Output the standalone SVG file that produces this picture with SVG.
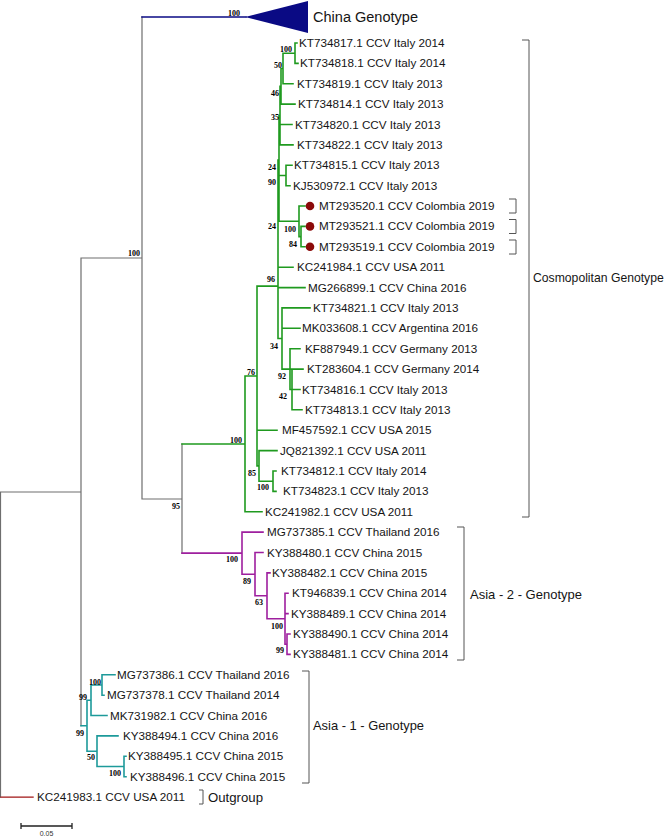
<svg xmlns="http://www.w3.org/2000/svg" width="670" height="838" viewBox="0 0 670 838">
<style>
.bg{fill:#fff}
.br{fill:none;stroke-width:1.2;stroke-linecap:square}
.gy{stroke:#6e6e6e}
.gn{stroke:#1f9a1f;stroke-width:1.6}
.pu{stroke:#9e1f9e;stroke-width:1.6}
.tl{stroke:#1d9a9a;stroke-width:1.6}
.bl{stroke:#0a0a84;stroke-width:1.6}
.rd{stroke:#a01414;stroke-width:1.4}
.lf{font-family:"Liberation Sans",Arial,sans-serif;font-size:11.7px;fill:#151515}
.cl{font-family:"Liberation Sans",Arial,sans-serif;font-size:13px;fill:#151515}
.cm{font-family:"Liberation Sans",Arial,sans-serif;font-size:12.2px;fill:#151515}
.bs{font-family:"Liberation Serif","Times New Roman",serif;font-size:8px;font-weight:bold;fill:#000;text-anchor:middle}
.bk{fill:none;stroke:#555;stroke-width:1}
.dot{fill:#8b0a0a}
</style>
<rect class="bg" x="0" y="0" width="670" height="838"/>

<g id="connectors">
  <path class="br gy" d="M0.5,492 V797.1 M0.5,492 H81 M81,258 V725.7 M81,258 H142 M142,17 V499 M142,499 H182 M182,444 V553.1"/>
  <path class="br rd" d="M1,797.1 H33"/>
  <path class="br bl" d="M142,17 H246"/>
  <path class="br gn" d="M182,444 H245 M245,376 V511.7 M245,511.7 H262
    M245,376 H257 M257,286.1 V465.9 M257,430.2 H277
    M257,465.9 H259 M259,450.6 V481.2 M259,450.6 H277 M259,481.2 H273 M273,471 V491.4 M273,471 H276 M273,491.4 H276
    M257,286.1 H278
    M295,43 V63.4 M295,43 H297 M295,63.4 H298
    M283,53.2 V83.8 M283,53.2 H295 M283,83.8 H293
    M281,68.5 V104.1 M281,68.5 H283 M281,104.1 H295
    M280,86.3 V144.9 M280,86.3 H281 M280,124.5 H292 M280,144.9 H293
    M279,115.6 V221.3 M279,115.6 H280 M279,175.5 H286 M279,221.3 H299
    M286,165.3 V185.7 M286,165.3 H292 M286,185.7 H290
    M299,206 V236.6 M299,206 H305 M299,236.6 H301 M301,226.4 V246.8 M301,226.4 H305 M301,246.8 H305
    M278,160 V338.5 M278,267.2 H293 M278,287.6 H305 M278,338.5 H282
    M282,307.9 V369.1 M282,307.9 H310 M282,328.3 H300 M282,369.1 H303
    M290,348.7 V389.5 M290,348.7 H300 M290,389.5 H292
    M292,369.1 V409.8 M292,389.5 H300 M292,409.8 H302"/>
  <path class="br pu" d="M182,553.1 H242 M242,532.1 V574.2 M242,532.1 H263 M242,574.2 H255
    M255,552.5 V595.8 M255,552.5 H263 M255,595.8 H267
    M267,572.9 V618.75 M267,572.9 H270 M267,618.75 H285
    M285,593.3 V644.2 M285,593.3 H288 M285,613.6 H288 M285,644.2 H287
    M287,634 V654.4 M287,634 H290 M287,654.4 H290"/>
  <path class="br tl" d="M81,725.7 H87 M87,700.3 V751.2 M87,700.3 H91
    M91,685 V715.5 M91,685 H102 M102,674.8 V695.2 M102,674.8 H115 M102,695.2 H104 M91,715.5 H107
    M87,751.2 H97 M97,735.9 V766.5 M97,735.9 H118 M97,766.5 H124
    M124,756.3 V776.7 M124,756.3 H126 M124,776.7 H126"/>
</g>

<g id="china-genotype">
  <polygon points="245,17 308,1 308,33" fill="#0a0a84"/>
  <text x="313" y="22" font-family="Liberation Sans, Arial, sans-serif" font-size="14" fill="#151515" textLength="105" lengthAdjust="spacingAndGlyphs">China Genotype</text>
</g>

<g id="leaves-cosmopolitan">
  <g id="KT734817"><text class="lf" x="299" y="47">KT734817.1 CCV Italy 2014</text></g>
  <g id="KT734818"><text class="lf" x="300" y="67.4">KT734818.1 CCV Italy 2014</text></g>
  <g id="KT734819"><text class="lf" x="297" y="87.8">KT734819.1 CCV Italy 2013</text></g>
  <g id="KT734814"><text class="lf" x="298" y="108.1">KT734814.1 CCV Italy 2013</text></g>
  <g id="KT734820"><text class="lf" x="295" y="128.5">KT734820.1 CCV Italy 2013</text></g>
  <g id="KT734822"><text class="lf" x="297" y="148.9">KT734822.1 CCV Italy 2013</text></g>
  <g id="KT734815"><text class="lf" x="294" y="169.3">KT734815.1 CCV Italy 2013</text></g>
  <g id="KJ530972"><text class="lf" x="293" y="189.7">KJ530972.1 CCV Italy 2013</text></g>
  <g id="MT293520"><circle class="dot" cx="310" cy="206" r="4.3"/><text class="lf" x="319" y="210">MT293520.1 CCV Colombia 2019</text></g>
  <g id="MT293521"><circle class="dot" cx="310" cy="226.4" r="4.3"/><text class="lf" x="319" y="230.4">MT293521.1 CCV Colombia 2019</text></g>
  <g id="MT293519"><circle class="dot" cx="310" cy="246.8" r="4.3"/><text class="lf" x="319" y="250.8">MT293519.1 CCV Colombia 2019</text></g>
  <g id="KC241984"><text class="lf" x="297" y="271.2">KC241984.1 CCV USA 2011</text></g>
  <g id="MG266899"><text class="lf" x="308" y="291.6">MG266899.1 CCV China 2016</text></g>
  <g id="KT734821"><text class="lf" x="313" y="311.9">KT734821.1 CCV Italy 2013</text></g>
  <g id="MK033608"><text class="lf" x="302" y="332.3">MK033608.1 CCV Argentina 2016</text></g>
  <g id="KF887949"><text class="lf" x="305" y="352.7">KF887949.1 CCV Germany 2013</text></g>
  <g id="KT283604"><text class="lf" x="307" y="373.1">KT283604.1 CCV Germany 2014</text></g>
  <g id="KT734816"><text class="lf" x="302" y="393.5">KT734816.1 CCV Italy 2013</text></g>
  <g id="KT734813"><text class="lf" x="305" y="413.8">KT734813.1 CCV Italy 2013</text></g>
  <g id="MF457592"><text class="lf" x="282" y="434.2">MF457592.1 CCV USA 2015</text></g>
  <g id="JQ821392"><text class="lf" x="280" y="454.6">JQ821392.1 CCV USA 2011</text></g>
  <g id="KT734812"><text class="lf" x="281" y="475">KT734812.1 CCV Italy 2014</text></g>
  <g id="KT734823"><text class="lf" x="283" y="495.4">KT734823.1 CCV Italy 2013</text></g>
  <g id="KC241982"><text class="lf" x="265" y="515.7">KC241982.1 CCV USA 2011</text></g>
</g>

<g id="leaves-asia2">
  <g id="MG737385"><text class="lf" x="267" y="536.1">MG737385.1 CCV Thailand 2016</text></g>
  <g id="KY388480"><text class="lf" x="267" y="556.5">KY388480.1 CCV China 2015</text></g>
  <g id="KY388482"><text class="lf" x="272" y="576.9">KY388482.1 CCV China 2015</text></g>
  <g id="KT946839"><text class="lf" x="292" y="597.3">KT946839.1 CCV China 2014</text></g>
  <g id="KY388489"><text class="lf" x="291" y="617.6">KY388489.1 CCV China 2014</text></g>
  <g id="KY388490"><text class="lf" x="293" y="638">KY388490.1 CCV China 2014</text></g>
  <g id="KY388481"><text class="lf" x="293" y="658.4">KY388481.1 CCV China 2014</text></g>
</g>

<g id="leaves-asia1">
  <g id="MG737386"><text class="lf" x="117" y="678.8">MG737386.1 CCV Thailand 2016</text></g>
  <g id="MG737378"><text class="lf" x="107" y="699.2">MG737378.1 CCV Thailand 2014</text></g>
  <g id="MK731982"><text class="lf" x="110" y="719.5">MK731982.1 CCV China 2016</text></g>
  <g id="KY388494"><text class="lf" x="123" y="739.9">KY388494.1 CCV China 2016</text></g>
  <g id="KY388495"><text class="lf" x="128" y="760.3">KY388495.1 CCV China 2015</text></g>
  <g id="KY388496"><text class="lf" x="130" y="780.7">KY388496.1 CCV China 2015</text></g>
</g>

<g id="outgroup-leaf">
  <g id="KC241983"><text class="lf" x="37" y="801.1">KC241983.1 CCV USA 2011</text></g>
</g>

<g id="bootstrap">
  <text class="bs" x="234" y="16">100</text>
  <text class="bs" x="134" y="256">100</text>
  <text class="bs" x="286" y="52">100</text>
  <text class="bs" x="278" y="68">50</text>
  <text class="bs" x="275" y="96">46</text>
  <text class="bs" x="275" y="120">35</text>
  <text class="bs" x="272" y="170">24</text>
  <text class="bs" x="272" y="185">90</text>
  <text class="bs" x="272" y="229">24</text>
  <text class="bs" x="290" y="232">100</text>
  <text class="bs" x="293" y="247">84</text>
  <text class="bs" x="271" y="282">96</text>
  <text class="bs" x="274" y="349">34</text>
  <text class="bs" x="282" y="379">92</text>
  <text class="bs" x="283" y="399">42</text>
  <text class="bs" x="251" y="375">76</text>
  <text class="bs" x="236" y="443">100</text>
  <text class="bs" x="252" y="476">85</text>
  <text class="bs" x="263" y="490">100</text>
  <text class="bs" x="176" y="509">95</text>
  <text class="bs" x="232" y="562">100</text>
  <text class="bs" x="247" y="584">89</text>
  <text class="bs" x="259" y="605">63</text>
  <text class="bs" x="277" y="629">100</text>
  <text class="bs" x="280" y="653">99</text>
  <text class="bs" x="95" y="685">100</text>
  <text class="bs" x="83" y="700">99</text>
  <text class="bs" x="80" y="736">99</text>
  <text class="bs" x="91" y="760">50</text>
  <text class="bs" x="115" y="776">100</text>
</g>

<g id="clade-brackets">
  <path class="bk" d="M522,40 H529 V517 H522"/>
  <path class="bk" d="M509,199 H516 V213 H509"/>
  <path class="bk" d="M509,219.5 H516 V233.5 H509"/>
  <path class="bk" d="M509,240 H516 V254 H509"/>
  <path class="bk" d="M457,527 H464 V660 H457"/>
  <path class="bk" d="M302,671 H309 V783 H302"/>
  <path class="bk" d="M199,790 H203 V804 H199"/>
  <text class="cm" x="533" y="281.5">Cosmopolitan Genotype</text>
  <text class="cl" x="470" y="598.5" textLength="112" lengthAdjust="spacingAndGlyphs">Asia - 2 - Genotype</text>
  <text class="cl" x="313" y="729.5" textLength="111" lengthAdjust="spacingAndGlyphs">Asia - 1 - Genotype</text>
  <text class="cl" x="208" y="801.5" textLength="55" lengthAdjust="spacingAndGlyphs">Outgroup</text>
</g>

<g id="scale-bar">
  <path d="M21,826 H72 M21,823 V829 M72,823 V829" fill="none" stroke="#222" stroke-width="1.3"/>
  <text x="46.5" y="836" font-family="Liberation Sans, Arial, sans-serif" font-size="7" fill="#333" text-anchor="middle">0.05</text>
</g>
</svg>
